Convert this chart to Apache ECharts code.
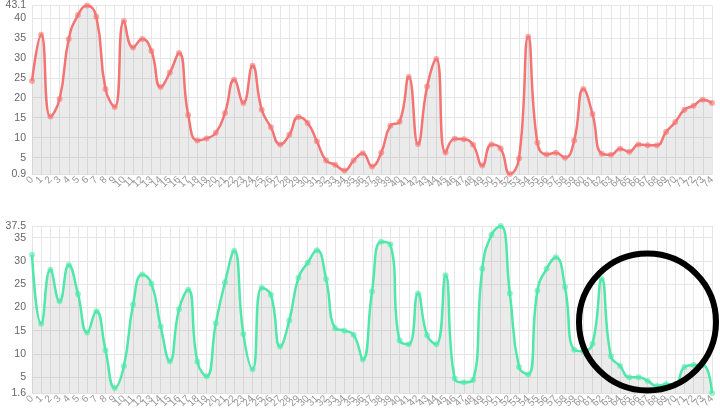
<!DOCTYPE html>
<html>
<head>
<meta charset="utf-8">
<script src="https://cdn.jsdelivr.net/npm/echarts@6/dist/echarts.min.js"></script>
<style>
  html, body { margin: 0; padding: 0; background: #fff; }
  #main { width: 720px; height: 416px; }
</style>
</head>
<body>
<div id="main"></div>
<script>
// 横轴 0..74
var categories = [];
for (var i = 0; i <= 74; i++) categories.push(String(i));

// 上图 (红)
var topValues = [
  24.2, 35.8, 15.3, 19.7, 34.7, 40.7, 43.1, 40.3, 22.2, 17.7,
  39.2, 32.6, 34.7, 31.7, 22.7, 26.3, 31.2, 15.7, 9.3, 9.8,
  11.2, 16.2, 24.5, 18.7, 28.0, 17.0, 12.6, 8.3, 10.7, 15.2,
  13.7, 9.1, 4.3, 3.2, 1.8, 4.3, 6.1, 2.8, 6.2, 13.0,
  14.0, 25.2, 8.4, 22.8, 29.7, 6.3, 9.7, 9.6, 8.2, 3.0,
  8.3, 7.3, 0.9, 4.8, 35.3, 8.7, 5.8, 6.2, 5.0, 9.3,
  22.2, 15.9, 6.0, 5.7, 7.2, 6.5, 8.3, 8.1, 8.1, 11.4,
  13.9, 17.0, 18.0, 19.5, 18.7
];

// 下图 (绿)
var bottomValues = [
  31.3, 16.5, 28.1, 21.3, 29.1, 22.9, 14.6, 19.2, 10.8, 2.7,
  7.4, 20.6, 27.1, 25.1, 15.9, 8.4, 19.6, 23.8, 8.3, 5.2,
  16.6, 25.4, 32.2, 14.3, 6.7, 24.2, 22.7, 11.6, 17.2, 26.4,
  29.6, 32.3, 26.1, 15.5, 15.0, 14.1, 8.8, 23.4, 34.1, 33.5,
  12.9, 12.1, 23.0, 14.0, 12.1, 26.9, 4.7, 3.9, 4.4, 28.3,
  35.6, 37.5, 23.0, 7.2, 5.6, 23.6, 28.3, 30.8, 24.4, 10.9,
  10.6, 12.2, 26.1, 9.5, 7.4, 5.0, 5.0, 4.2, 3.1, 3.5,
  3.5, 7.2, 7.6, 7.6, 1.6
];

var chart = echarts.init(document.getElementById('main'));

var fontFamily = 'Liberation Sans, Arial, sans-serif';

function xAxisOf(idx) {
  return {
    type: 'category',
    gridIndex: idx,
    data: categories,
    boundaryGap: false,
    axisLine: { show: true, lineStyle: { color: '#e0e0e0' } },
    axisTick: { show: false },
    axisLabel: { interval: 0, rotate: 45, margin: 4, color: '#999', fontSize: 10, fontFamily: fontFamily },
    splitLine: { show: true, interval: 0, lineStyle: { color: '#e6e6e6' } }
  };
}

function yAxisOf(idx) {
  return {
    type: 'value',
    gridIndex: idx,
    min: 'dataMin',
    max: 'dataMax',
    minInterval: 5,
    maxInterval: 5,
    axisLine: { show: false },
    axisTick: { show: false },
    axisLabel: { margin: 6, color: '#666', fontSize: 10.5, fontFamily: fontFamily },
    splitLine: { show: true, lineStyle: { color: '#e6e6e6' } }
  };
}

function seriesOf(idx, values, color) {
  return {
    type: 'line',
    xAxisIndex: idx,
    yAxisIndex: idx,
    data: values,
    smooth: true,
    symbol: 'circle',
    symbolSize: 6,
    lineStyle: { color: color, width: 2.5 },
    itemStyle: { color: color, opacity: 0.6 },
    areaStyle: { color: 'rgba(128,128,128,0.23)' }
  };
}

var option = {
  animation: false,
  grid: [
    { left: 32, right: 8, top: 5, height: 169 },
    { left: 32, right: 8, top: 226, height: 167 }
  ],
  xAxis: [xAxisOf(0), xAxisOf(1)],
  yAxis: [yAxisOf(0), yAxisOf(1)],
  series: [
    seriesOf(0, topValues, '#f47474'),
    seriesOf(1, bottomValues, '#4fe8aa')
  ],
  graphic: [{
    type: 'circle',
    shape: { cx: 647.5, cy: 322, r: 68.5 },
    style: { fill: 'none', stroke: '#000', lineWidth: 6 },
    z: 100
  }]
};

chart.setOption(option);
</script>
</body>
</html>
